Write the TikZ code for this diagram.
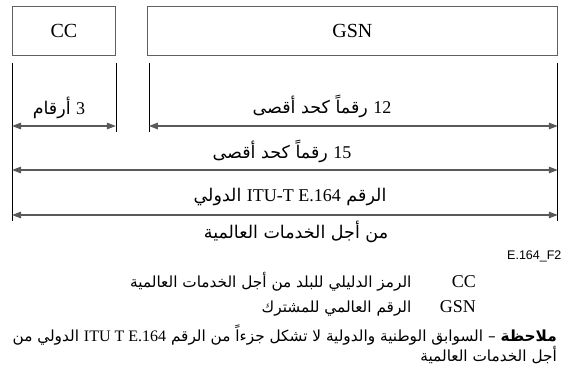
\documentclass[tikz,border=0pt]{standalone}
\usepackage{fontspec}
\setmainfont{Liberation Serif}
\newfontfamily\arabicfont[Script=Arabic]{DejaVu Sans}
\newfontfamily\figfont{Liberation Sans}
\TeXXeTstate=1
\usetikzlibrary{calc, positioning, arrows.meta}

\begin{document}
\begin{tikzpicture}[x=1pt, y=-1pt, >={Triangle[length=9pt, width=6.5pt]},
    field/.style={draw=gray!75!black, line width=0.9pt, rectangle, minimum height=49pt, inner sep=0pt, font=\fontsize{20}{20}\selectfont},
    ext/.style={draw=black, line width=0.8pt},
    dim/.style={<->, draw=gray!70!black, line width=1.2pt},
    lbl/.style={inner sep=0pt, font=\arabicfont\fontsize{17.5}{17.5}\selectfont},
    txt/.style={inner sep=0pt, font=\arabicfont\fontsize{15.3}{15.3}\selectfont},
    key/.style={inner sep=0pt, font=\fontsize{18}{18}\selectfont}]

    \useasboundingbox (0,0) rectangle (562,383);

    % The two fields of the number
    \node[field, minimum width=103pt, anchor=north west] (cc) at (12,6) {CC};
    \node[field, minimum width=410pt, right=31pt of cc] (gsn) {GSN};

    % Extension lines below the fields
    \coordinate (ccL) at ($(cc.south west)+(0,7)$);
    \coordinate (ccR) at ($(cc.south east)+(0,7)$);
    \coordinate (gsnL) at ($(gsn.south west)+(2,7)$);
    \coordinate (gsnR) at ($(gsn.south east)+(0,7)$);
    \coordinate (short) at (0,132);
    \coordinate (long) at (0,221);
    \draw[ext] (ccL) -- (ccL |- long);
    \draw[ext] (ccR) -- (ccR |- short);
    \draw[ext] (gsnL) -- (gsnL |- short);
    \draw[ext] (gsnR) -- (gsnR |- long);

    % Length arrows
    \coordinate (row1) at (0,126);
    \coordinate (row2) at (0,170);
    \coordinate (row3) at (0,215);
    \draw[dim] (ccL |- row1) -- (ccR |- row1);
    \draw[dim] (gsnL |- row1) -- (gsnR |- row1);
    \draw[dim] (ccL |- row2) -- (gsnR |- row2);
    \draw[dim] (ccL |- row3) -- (gsnR |- row3);

    % Arrow labels
    \node[lbl, anchor=base] (three) at (59,114) {\beginR\beginL{\rmfamily\fontsize{18}{18}\selectfont 3}\endL{} أرقام\endR};
    \node[lbl, anchor=base] (twelve) at (322,113) {\beginR\beginL{\rmfamily\fontsize{18}{18}\selectfont 12}\endL{} رقماً كحد أقصى\endR};
    \node[lbl, anchor=base] (fifteen) at (282,158) {\beginR\beginL{\rmfamily\fontsize{18}{18}\selectfont 15}\endL{} رقماً كحد أقصى\endR};
    \node[lbl, anchor=base] (itu) at (290,201) {\beginR الرقم \beginL{\rmfamily\fontsize{18}{18}\selectfont ITU-T E.164}\endL{} الدولي\endR};
    \node[lbl, anchor=base] (global) at (296,238) {\beginR من أجل الخدمات العالمية\endR};

    % Figure reference
    \node[inner sep=0pt, anchor=base west, font=\figfont\fontsize{12.5}{12.5}\selectfont] (fig) at (507,259) {E.164\_F2};

    % Key
    \node[key, anchor=base east] (kcc) at (476,287) {CC};
    \node[key, anchor=base east] (kgsn) at (476,312) {GSN};
    \node[txt, anchor=base east] (dcc) at ([xshift=-40pt]kcc.base west) {\beginR الرمز الدليلي للبلد من أجل الخدمات العالمية\endR};
    \node[txt, anchor=base east] (dgsn) at (dcc.base east |- kgsn.base) {\beginR الرقم العالمي للمشترك\endR};

    % Note
    \node[txt, anchor=base east] (note1) at (557,341) {\beginR{\bfseries ملاحظة} – السوابق الوطنية والدولية لا تشكل جزءاً من الرقم \beginL{\rmfamily\fontsize{16}{16}\selectfont ITU T E.164}\endL{} الدولي من\endR};
    \node[txt, anchor=base east] (note2) at (557,361) {\beginR أجل الخدمات العالمية\endR};

\end{tikzpicture}
\end{document}
